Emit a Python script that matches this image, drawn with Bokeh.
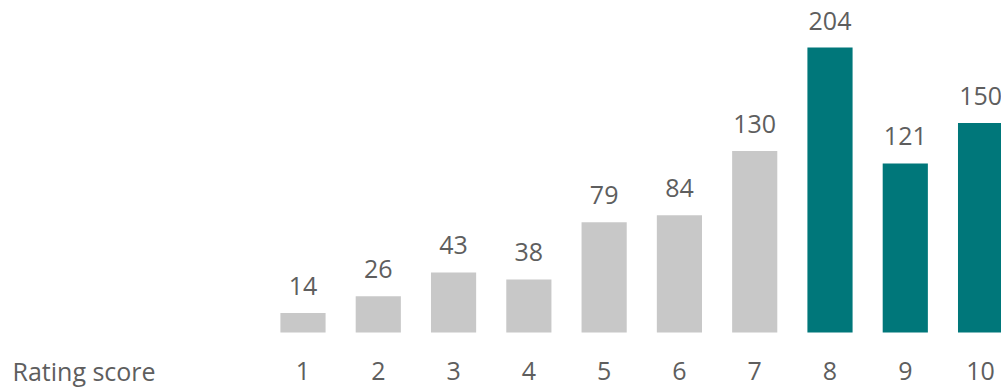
from bokeh.plotting import figure
from bokeh.models import ColumnDataSource, Range1d, Label
from bokeh.core.properties import value
from bokeh.embed import file_html
from bokeh.resources import INLINE

scores = [1, 2, 3, 4, 5, 6, 7, 8, 9, 10]
counts = [14, 26, 43, 38, 79, 84, 130, 204, 121, 150]
tick_labels = ["1", "2", "3", "4", "5", "6", "7", "8", "9", "10"]
axis_title = "Rating score"

GRAY = "#C8C8C8"
TEAL = "#00777A"
TEXT = "#5E5E5E"
FONT = "Open Sans"

colors = [TEAL if s >= 8 else GRAY for s in scores]

src = ColumnDataSource(dict(
    x=scores, top=counts, color=colors,
    label=[str(c) for c in counts], tick=tick_labels,
    ty=[-27.6] * len(scores),
))

p = figure(width=1001, height=387, output_backend="svg", toolbar_location=None,
           x_range=Range1d(-3.018, 10.278), y_range=Range1d(-39.37, 237.65),
           min_border=0, outline_line_color=None)
p.xaxis.visible = False
p.yaxis.visible = False
p.grid.visible = False
p.background_fill_color = "white"
p.border_fill_color = "white"

p.vbar(x="x", top="top", bottom=0, width=0.6, fill_color="color",
       line_color=None, source=src)

p.text(x="x", y="top", text="label", source=src, text_align="center",
       text_baseline="alphabetic", y_offset=-27, text_color=TEXT,
       text_font=value(FONT), text_font_size="25px")

p.text(x="x", y="ty", text="tick", source=src, text_align="center",
       text_baseline="middle", text_color=TEXT,
       text_font=value(FONT), text_font_size="25px")

p.add_layout(Label(x=12, y=-27.6, x_units="screen", text=axis_title,
                   text_align="left", text_baseline="middle", text_color=TEXT,
                   text_font=FONT, text_font_size="25px"))

open("out.html", "w").write(file_html(p, INLINE))
